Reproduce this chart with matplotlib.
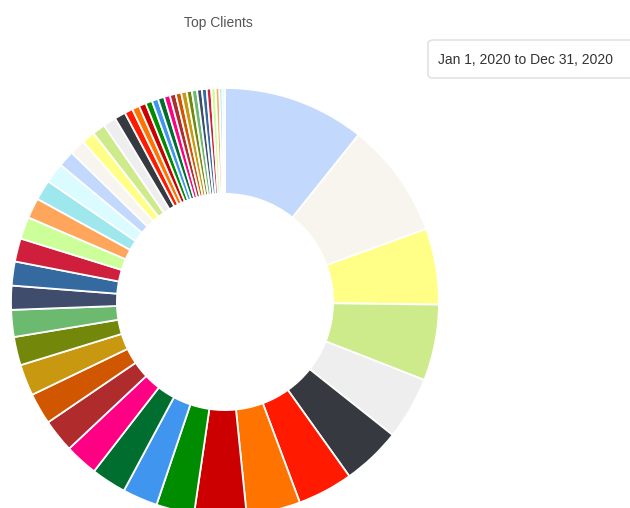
import matplotlib
matplotlib.use('Agg')
from matplotlib import pyplot as plt
from matplotlib.patches import FancyBboxPatch

plt.rcParams['font.family'] = ['Liberation Sans', 'DejaVu Sans']

# share of each client (sorted large -> small)
clients = ['Client %d' % (i + 1) for i in range(50)]
shares = [38.5, 31.3, 20.6, 20.6, 17.0, 16.0, 15.0, 14.6, 14.1, 10.3,
          9.5, 9.5, 9.0, 9.0, 8.5, 8.5, 7.7, 7.3, 6.5, 6.5,
          6.3, 6.0, 5.5, 5.5, 5.5, 4.4, 4.2, 3.6, 3.5, 3.5,
          3.0, 2.2, 2.0, 1.9, 1.8, 1.7, 1.7, 1.6, 1.6, 1.5,
          1.5, 1.4, 1.4, 1.3, 1.3, 1.2, 1.2, 1.0, 0.8, 0.7]

palette = ['#c3d8fd', '#f7f5ee', '#ffff88', '#cdeb8b', '#eeeeee',
           '#36393f', '#ff1a00', '#ff7400', '#cc0000', '#008c00',
           '#4096ee', '#006e2e', '#ff0084', '#b02b2c', '#d15600',
           '#c79810', '#73880a', '#6bba70', '#3f4c6b', '#356aa0',
           '#d01f3c', '#ccff99', '#ffa65c', '#9ee7ec', '#dafbff']
colors = [palette[i % len(palette)] for i in range(len(shares))]

title = 'Top Clients'
date_range = 'Jan 1, 2020 to Dec 31, 2020'

W, H = 630, 508
fig = plt.figure(figsize=(W / 100, H / 100), dpi=100)
ax = fig.add_axes([0, 0, 1, 1])

cx, cy, R = 225, 302, 214  # pixel centre (from top) and outer radius
ax.pie(shares, colors=colors, startangle=90, counterclock=False, radius=1,
       wedgeprops=dict(width=0.495, edgecolor='white', linewidth=1.3))
ax.set_aspect('auto')
ax.set_xlim(-cx / R, (W - cx) / R)
ax.set_ylim(-(H - cy) / R, cy / R)
ax.axis('off')

fig.text(218 / W, 1 - 23 / H, title, ha='center', va='center',
         fontsize=10, color='#555555')

box = FancyBboxPatch((428 / W, 1 - 78 / H), 220 / W, 38 / H,
                     boxstyle='round,pad=0,rounding_size=0.008',
                     transform=fig.transFigure, facecolor='white',
                     edgecolor='#dddddd', linewidth=1)
fig.add_artist(box)
fig.text(438 / W, 1 - 60 / H, date_range, ha='left', va='center',
         fontsize=10, color='#333333')

fig.savefig('out.png', dpi=100)
